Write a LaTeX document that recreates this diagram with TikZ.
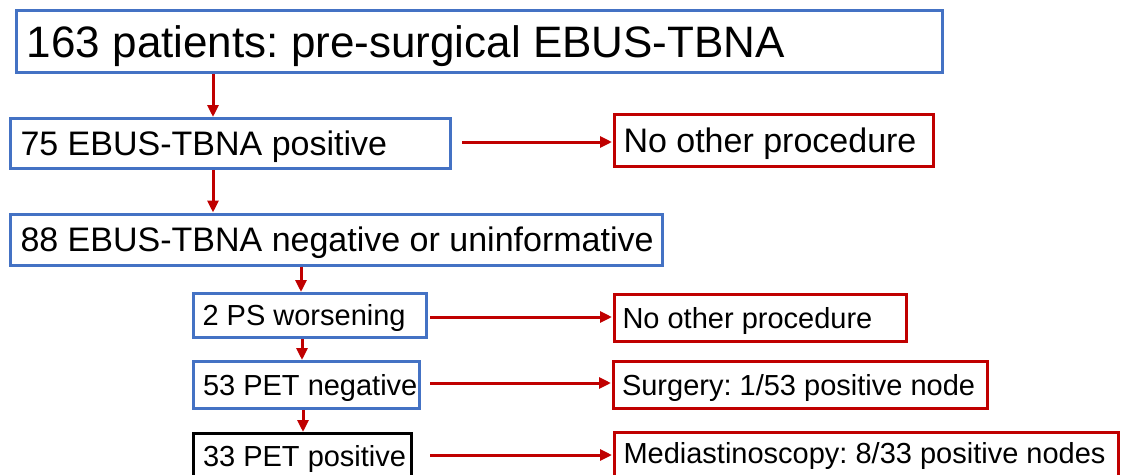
\documentclass[tikz,border=0pt]{standalone}
\usepackage{fontspec}
\setmainfont{Liberation Sans}
\usetikzlibrary{arrows.meta}
\definecolor{bblue}{HTML}{4472C4}
\definecolor{rred}{HTML}{C00000}
\newcommand{\lbox}[2]{\makebox[#1][l]{#2}}
\tikzset{
  box/.style={draw, line width=3pt, anchor=north west, inner ysep=0pt, text depth=0pt},
  bluebox/.style={box, draw=bblue},
  redbox/.style={box, draw=rred},
  blackbox/.style={box, draw=black},
  big/.style={font=\fontsize{44}{48}\selectfont, text height=31.5pt},
  mid/.style={font=\fontsize{34}{38}\selectfont, text height=24.3pt},
  small/.style={font=\fontsize{29}{33}\selectfont, text height=20.8pt},
  arr/.style={draw=rred, line width=3pt, -{Triangle[length=12pt,width=11pt]}},
}
\begin{document}
\frenchspacing
\begin{tikzpicture}[x=1pt,y=-1pt]
\useasboundingbox (0,0) rectangle (1129,474);
% main column
\node[bluebox, big, minimum width=926pt, minimum height=62.5pt, inner xsep=10.3pt] (b1) at (15,8.5) {\lbox{905pt}{163 patients: pre-surgical EBUS-TBNA}};
\node[bluebox, mid, minimum width=440pt, minimum height=50pt, inner xsep=10pt] (b2) at (9,117) {\lbox{420pt}{75 EBUS-TBNA positive}};
\node[bluebox, mid, minimum width=652pt, minimum height=51pt, inner xsep=10pt] (b3) at (9,212.5) {\lbox{632pt}{88 EBUS-TBNA negative or uninformative}};
\node[bluebox, small, minimum width=233pt, minimum height=44pt, inner xsep=9pt] (b4) at (192,292) {\lbox{215pt}{2 PS worsening}};
\node[bluebox, small, minimum width=226pt, minimum height=47pt, inner xsep=9.5pt] (b5) at (192,360) {\lbox{207pt}{53 PET negative}};
\node[blackbox, small, minimum width=218pt, minimum height=45pt, inner xsep=9.5pt] (b6) at (192,432) {\lbox{199pt}{33 PET positive}};
% outcome column
\node[redbox, mid, minimum width=319pt, minimum height=52pt, inner xsep=9pt] (rA) at (613,113) {\lbox{301pt}{No other procedure}};
\node[redbox, small, minimum width=292pt, minimum height=47pt, inner xsep=8pt] (rB) at (613,293) {\lbox{276pt}{No other procedure}};
\node[redbox, small, minimum width=374pt, minimum height=47pt, inner xsep=8.5pt] (rC) at (612,360) {\lbox{357pt}{Surgery: 1/53 positive node}};
\node[redbox, small, minimum width=504pt, minimum height=46pt, inner xsep=9pt, text depth=5pt] (rD) at (613,431) {\lbox{486pt}{Mediastinoscopy: 8/33 positive nodes}};
% helper columns for connectors
\coordinate (c1) at (213,0);
\coordinate (c3) at (301,0);
\coordinate (c4) at (302,0);
\coordinate (c5) at (303,0);
\coordinate (h0) at (462,142);
\coordinate (h1) at (430,317);
\coordinate (h2) at (430,383);
\coordinate (h3) at (430,455);
% vertical arrows
\draw[arr] (b1.south -| c1) -- (b2.north -| c1);
\draw[arr] (b2.south -| c1) -- (b3.north -| c1);
\draw[arr] (b3.south -| c3) -- (b4.north -| c3);
\draw[arr] (b4.south -| c4) -- (b5.north -| c4);
\draw[arr] (b5.south -| c5) -- (b6.north -| c5);
% horizontal arrows
\draw[arr, shorten >=1pt] (h0) -- (h0 -| rA.west);
\draw[arr, shorten >=1pt] (h1) -- (h1 -| rB.west);
\draw[arr, shorten >=1pt] (h2) -- (h2 -| rC.west);
\draw[arr, shorten >=1pt] (h3) -- (h3 -| rD.west);
\end{tikzpicture}
\end{document}
